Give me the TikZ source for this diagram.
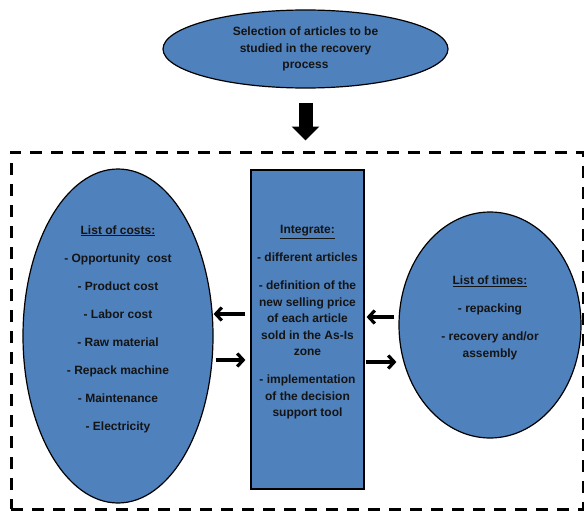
\documentclass[tikz,border=0pt]{standalone}
\usepackage{fontspec}
\setmainfont{Liberation Sans}
\usetikzlibrary{shapes.geometric,arrows.meta}
\definecolor{officeblue}{HTML}{4F81BD}

\begin{document}
\begin{tikzpicture}[x=1pt,y=-1pt,
  blob/.style={draw, line width=1.2pt, fill=officeblue, inner sep=0pt},
  txt/.style={align=center, inner sep=0pt, text=black!92,
    font=\bfseries\fontsize{12}{16.5}\selectfont},
  link/.style={draw, line width=3.2pt, -{Straight Barb[length=6pt,width=13pt]}}]
\useasboundingbox (0,0) rectangle (584,511);
\node[blob, txt, ellipse, minimum width=285pt, minimum height=78pt] (1) at (305.5,49) {Selection of articles to be\\studied in the recovery\\process};
\node[draw, line width=3pt, dash pattern=on 12pt off 9pt, minimum width=572pt, minimum height=357pt] (5) at (297,330.5) {};
\node[blob, ellipse, minimum width=190pt, minimum height=334pt] (2) at (118,336) {};
\node[blob, minimum width=113pt, minimum height=319pt] (3) at (307.5,329.5) {};
\node[blob, ellipse, minimum width=182pt, minimum height=226pt] (4) at (490,325) {};
\node[txt] (2t) at (118,329) {\underline{List of costs:}\\[11.5pt]
  - Opportunity\ \ cost\\[11.5pt] - Product cost\\[11.5pt] - Labor cost\\[11.5pt]
  - Raw material\\[11.5pt] - Repack machine\\[11.5pt] - Maintenance\\[11.5pt] - Electricity};
\node[txt] (3t) at (307.5,322.5) {\underline{Integrate:}\\[11.5pt]
  - different articles\\[11.5pt]
  - definition of the\\new selling price\\of each article\\sold in the As-Is\\zone\\[11.5pt]
  - implementation\\of the decision\\support tool};
\node[txt] (4t) at (490,318) {\underline{List of times:}\\[11.5pt]
  - repacking\\[11.5pt] - recovery and/or\\assembly};
\coordinate (l1) at (0,314);
\coordinate (l2) at (0,360);
\coordinate (r1) at (0,317);
\coordinate (r2) at (0,362);
\path[draw, line width=14pt, -{Triangle[length=14pt,width=27pt]}, shorten <=14pt, shorten >=10pt] (1.south) -- (1.south |- 5.north);
\path[link, shorten <=5pt] (3.west |- l1) -- (2.east |- l1);
\path[link, shorten <=2pt, shorten >=5pt] (2.east |- l2) -- (3.west |- l2);
\path[link, shorten <=4pt, shorten >=2pt] (4.west |- r1) -- (3.east |- r1);
\path[link, shorten <=1pt, shorten >=2pt] (3.east |- r2) -- (4.west |- r2);
\end{tikzpicture}
\end{document}
